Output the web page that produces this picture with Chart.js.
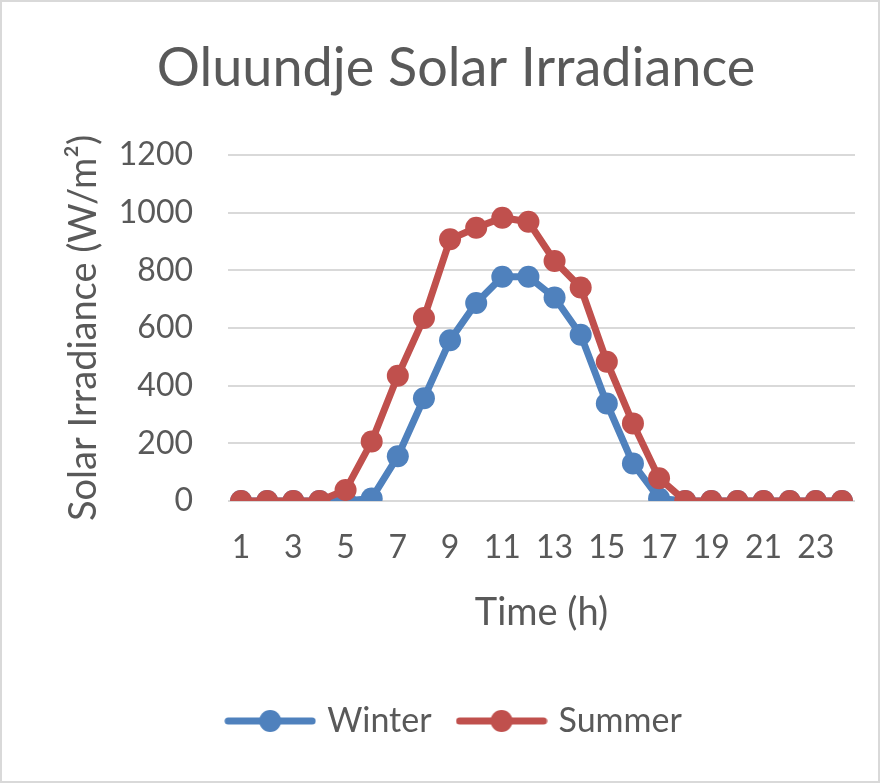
<!DOCTYPE html>
<html>
<head>
<meta charset="utf-8">
<script src="https://cdn.jsdelivr.net/npm/chart.js@4.4.1/dist/chart.umd.min.js"></script>
<style>
  html, body { margin: 0; padding: 0; background: #fff; }
  #wrap { width: 876px; height: 779px; border: 2px solid #d9d9d9; }
</style>
</head>
<body>
<div id="wrap"><canvas id="chart" width="876" height="779"></canvas></div>
<script>
const hours = Array.from({length: 24}, (_, i) => String(i + 1));
const winter = [0, 0, 0, 0, 0, 9, 155, 356, 557, 686, 777, 777, 705, 576, 338, 130, 9, 0, 0, 0, 0, 0, 0, 0];
const summer = [0, 0, 0, 0, 38, 206, 434, 634, 907, 947, 982, 968, 832, 740, 483, 269, 79, 0, 0, 0, 0, 0, 0, 0];

const FONT = "Lato, 'Open Sans', sans-serif";
const GREY = "#595959";
const BLUE = "#4f81bd";
const RED = "#c0504d";

// legend swatch: thick line with a dot in the middle
function swatch(color) {
  const c = document.createElement("canvas");
  c.width = 92;
  c.height = 24;
  const g = c.getContext("2d");
  g.strokeStyle = color;
  g.lineWidth = 7;
  g.lineCap = "round";
  g.beginPath();
  g.moveTo(4, 12);
  g.lineTo(88, 12);
  g.stroke();
  g.fillStyle = color;
  g.beginPath();
  g.arc(46, 12, 11, 0, Math.PI * 2);
  g.fill();
  return c;
}
const swatches = [swatch(BLUE), swatch(RED)];

new Chart(document.getElementById("chart"), {
  type: "line",
  data: {
    labels: hours,
    datasets: [
      {
        label: "Winter",
        data: winter,
        borderColor: BLUE,
        backgroundColor: BLUE,
        borderWidth: 7,
        pointRadius: 11,
        pointBorderWidth: 0,
        order: 1,
      },
      {
        label: "Summer",
        data: summer,
        borderColor: RED,
        backgroundColor: RED,
        borderWidth: 7,
        pointRadius: 11,
        pointBorderWidth: 0,
        order: 0,
      },
    ],
  },
  options: {
    responsive: false,
    animation: false,
    layout: {padding: {left: 55, right: 23, top: 20, bottom: 33}},
    plugins: {
      title: {
        display: true,
        text: "Oluundje Solar Irradiance",
        color: GREY,
        font: {family: FONT, size: 54, weight: "normal"},
        padding: {top: 14, bottom: 54},
      },
      legend: {
        position: "bottom",
        labels: {
          color: GREY,
          font: {family: FONT, size: 34},
          usePointStyle: true,
          pointStyleWidth: 80,
          padding: 30,
          sort: (a, b) => a.datasetIndex - b.datasetIndex,
          generateLabels: chart => Chart.defaults.plugins.legend.labels.generateLabels(chart)
            .map(item => Object.assign(item, {pointStyle: swatches[item.datasetIndex]})),
        },
      },
      tooltip: {enabled: false},
    },
    scales: {
      x: {
        offset: true,
        grid: {display: false, drawTicks: false},
        border: {display: false},
        ticks: {
          color: GREY,
          font: {family: FONT, size: 32},
          autoSkip: false,
          maxRotation: 0,
          padding: 27,
          callback: function (value, index) {
            return index % 2 === 0 ? this.getLabelForValue(value) : "";
          },
        },
        title: {
          display: true,
          text: "Time (h)",
          color: GREY,
          font: {family: FONT, size: 38},
          padding: {top: -3, bottom: 38},
        },
      },
      y: {
        min: 0,
        max: 1200,
        grid: {color: "#d9d9d9", lineWidth: 2, drawTicks: false},
        border: {display: false},
        afterFit: scale => { scale.width = 171; },
        ticks: {
          stepSize: 200,
          color: GREY,
          font: {family: FONT, size: 32},
          padding: 35,
          callback: value => String(value),
        },
        title: {
          display: true,
          text: "Solar Irradiance (W/m²)",
          color: GREY,
          font: {family: FONT, size: 38},
        },
      },
    },
  },
});
</script>
</body>
</html>
